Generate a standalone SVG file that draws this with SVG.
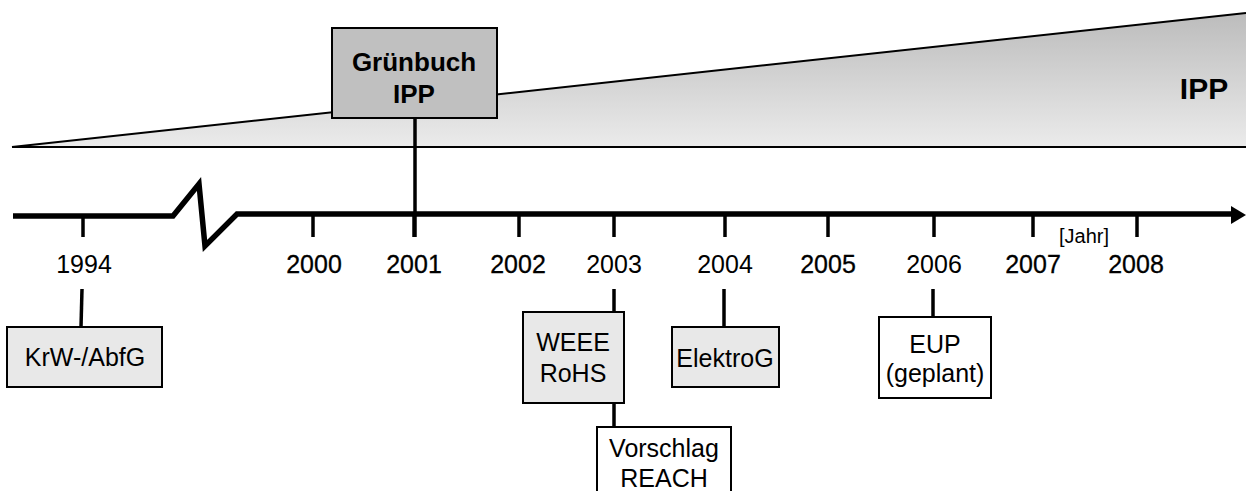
<svg xmlns="http://www.w3.org/2000/svg" width="1246" height="491" viewBox="0 0 1246 491">
<style>
text{font-family:"Liberation Sans",Arial,sans-serif;fill:#000;text-anchor:middle}
.yr{font-size:25px}
.yb{font-size:25px;stroke:#000;stroke-width:0.3}
.lbl{font-size:25px}
.box{stroke:#000;stroke-width:2}
.tick{stroke:#000;stroke-width:3.5;fill:none}
.conn{stroke:#000;stroke-width:3.5;fill:none}
</style>
<defs>
<linearGradient id="g" gradientUnits="userSpaceOnUse" x1="0" y1="13" x2="0" y2="147">
<stop offset="0" stop-color="#bcbcbc"/>
<stop offset="1" stop-color="#ebebeb"/>
</linearGradient>
</defs>
<g id="ipp-wedge">
<polygon points="12,147 1246,13 1246,147" fill="url(#g)"/>
<line x1="12" y1="147" x2="1246" y2="13" stroke="#000" stroke-width="2"/>
<line x1="12" y1="147" x2="1246" y2="147" stroke="#000" stroke-width="2"/>
<text x="1204" y="99" style="font-size:30px;font-weight:bold">IPP</text>
</g>
<g id="axis">
<path d="M13,216 L173,216 L199,184 L205,246 L237,214 L1232,214" stroke="#000" stroke-width="5.5" fill="none" stroke-linejoin="miter"/>
<polygon points="1231,206 1246,215 1231,224" fill="#000"/>
<g class="tick">
<line x1="83" y1="214" x2="83" y2="237"/>
<line x1="313" y1="214" x2="313" y2="237"/>
<line x1="414" y1="214" x2="414" y2="237"/>
<line x1="519" y1="214" x2="519" y2="237"/>
<line x1="614" y1="214" x2="614" y2="237"/>
<line x1="725" y1="214" x2="725" y2="237"/>
<line x1="828" y1="214" x2="828" y2="237"/>
<line x1="934" y1="214" x2="934" y2="237"/>
<line x1="1033" y1="214" x2="1033" y2="237"/>
<line x1="1137" y1="214" x2="1137" y2="237"/>
</g>
<text x="1084" y="243" style="font-size:20px">[Jahr]</text>
<text class="yr" x="84" y="273">1994</text>
<text class="yb" x="314" y="273">2000</text>
<text class="yb" x="414" y="273">2001</text>
<text class="yb" x="518" y="273">2002</text>
<text class="yr" x="614" y="273">2003</text>
<text class="yr" x="725" y="273">2004</text>
<text class="yb" x="828" y="273">2005</text>
<text class="yr" x="934" y="273">2006</text>
<text class="yb" x="1033" y="273">2007</text>
<text class="yb" x="1136" y="273">2008</text>
</g>
<g id="connectors">
<line class="conn" x1="415" y1="118" x2="415" y2="237"/>
<line class="conn" x1="82" y1="289" x2="81" y2="327"/>
<line class="conn" x1="614" y1="289" x2="614" y2="312"/>
<line class="conn" x1="614" y1="403" x2="614" y2="427"/>
<line class="conn" x1="724" y1="289" x2="724" y2="327"/>
<line class="conn" x1="933" y1="289" x2="933" y2="317"/>
</g>
<g id="gruenbuch">
<rect class="box" x="332" y="28" width="165" height="90" fill="#c0c0c0"/>
<text x="414" y="71" style="font-size:26px;font-weight:bold">Grünbuch</text>
<text x="414" y="103" style="font-size:26px;font-weight:bold">IPP</text>
</g>
<g id="krw">
<rect class="box" x="7" y="327" width="155" height="60" fill="#e8e8e8"/>
<text class="lbl" x="85" y="366">KrW-/AbfG</text>
</g>
<g id="weee">
<rect class="box" x="523" y="312" width="101" height="91" fill="#e8e8e8"/>
<text class="lbl" x="573" y="351">WEEE</text>
<text class="lbl" x="573" y="382">RoHS</text>
</g>
<g id="reach">
<rect class="box" x="597" y="427" width="134" height="70" fill="#fff"/>
<text class="lbl" x="664" y="457">Vorschlag</text>
<text class="lbl" x="664" y="487">REACH</text>
</g>
<g id="elektrog">
<rect class="box" x="672" y="327" width="107" height="60" fill="#e8e8e8"/>
<text class="lbl" x="725" y="367">ElektroG</text>
</g>
<g id="eup">
<rect class="box" x="879" y="317" width="112" height="81" fill="#fff"/>
<text class="lbl" x="935" y="353">EUP</text>
<text class="lbl" x="935" y="382">(geplant)</text>
</g>
</svg>
